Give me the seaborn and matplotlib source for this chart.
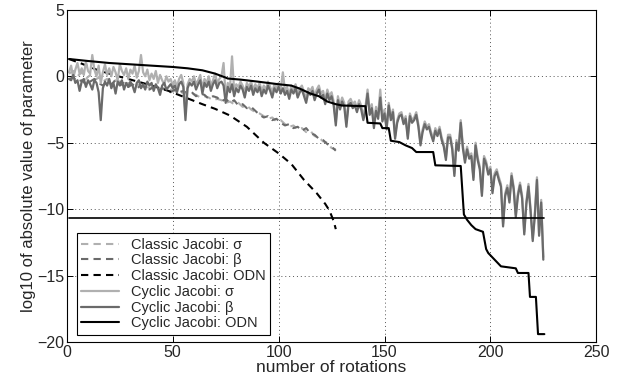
import numpy as np
import pandas as pd
import seaborn as sns
import matplotlib
matplotlib.use("Agg")
import matplotlib.pyplot as plt

# ---------------- data ----------------
cyc_x = list(range(1, 226))
cyc_beta = [
    -0.2, -0.3, 0.1, -0.5, -0.3, -1.1, -0.4, -0.2, -0.8, -0.3,
    -0.6, -1.0, -0.3, -0.5, -1.2, -3.3, -0.9, -0.4, -0.7, -0.2,
    -0.9, -0.5, -1.3, -0.4, -0.6, -0.3, -1.0, -0.5, -0.8, -0.4,
    -0.7, -1.2, -0.5, -0.3, -0.9, -0.6, -1.0, -0.4, -0.7, -0.5,
    -1.1, -0.6, -0.9, -1.4, -0.7, -0.5, -1.0, -0.8, -0.6, -0.9,
    -0.7, -1.2, -0.6, -0.4, -0.8, -3.3, -0.9, -0.5, -0.7, -0.4,
    -1.0, -0.6, -0.3, -1.3, -0.5, -0.8, -0.4, -1.1, -0.6, -0.3,
    -0.9, -0.5, -0.4, -0.7, -2.0, -0.8, -1.2, -0.6, -1.5, -0.9,
    -1.2, -0.7, -1.0, -1.6, -0.8, -1.1, -0.7, -1.4, -0.9, -1.2,
    -0.8, -1.5, -1.0, -1.3, -0.7, -1.1, -1.6, -0.9, -1.2, -0.8,
    -1.3, -0.9, -1.4, -1.1, -1.7, -1.0, -1.3, -0.9, -1.6, -1.2,
    -1.0, -1.5, -2.0, -1.2, -1.4, -1.1, -1.8, -1.3, -1.0, -1.6,
    -1.4, -2.1, -1.3, -1.8, -1.5, -2.2, -3.7, -1.8, -2.5, -1.9,
    -2.3, -3.8, -2.15, -2.0, -2.4, -2.2, -2.7, -2.1, -2.5, -3.3,
    -2.6, -1.3, -2.9, -2.4, -3.9, -2.6, -3.2, -1.6, -3.4, -2.8,
    -4.0, -2.2, -3.3, -2.7, -4.7, -3.5, -3.0, -2.9, -3.6, -3.2,
    -4.7, -3.0, -3.5, -3.3, -2.9, -3.8, -5.2, -4.2, -3.6, -4.0,
    -3.8, -4.4, -4.9, -4.1, -4.5, -4.0, -4.8, -5.3, -6.3, -4.6,
    -4.6, -5.5, -7.5, -5.0, -5.6, -3.5, -5.4, -6.5, -5.5, -6.2,
    -6.0, -7.8, -5.2, -6.3, -7.0, -9.0, -6.2, -6.6, -7.4, -7.0,
    -8.8, -7.5, -7.2, -7.8, -8.3, -11.3, -9.0, -8.4, -9.5, -7.5,
    -8.5, -10.6, -9.0, -8.2, -9.2, -11.9, -9.6, -8.3, -10.2, -12.4,
    -10.5, -7.8, -12.0, -9.5, -13.8,
]
cyc_sigma = [
    0.3, 0.8, -0.1, 0.5, 1.0, 0.2, 0.6, 0.1, 1.1, 0.4,
    0.2, 1.6, 0.5, 0.0, 0.8, -0.5, 0.3, 0.9, 0.1, 0.6,
    0.0, 0.7, 0.3, -0.3, 0.9, 0.4, 0.1, 0.6, -0.2, 0.5,
    0.2, 0.8, -0.1, 0.4, 1.6, 0.3, 0.0, 0.5, -0.3, 0.2,
    -0.2, 0.4, -0.5, 0.1, -0.3, -0.6, 0.0, -0.4, -0.2, -0.7,
    -0.3, -0.8, -0.2, 0.1, -0.5, -2.8, -0.6, -0.2, -0.4, 0.0,
    -0.6, -0.3, 0.1, -0.9, -0.2, -0.5, 0.0, -0.7, -0.3, 0.2,
    -0.5, -0.2, 0.0, 1.0, -1.5, -0.5, -0.9, 1.5, -1.1, -0.6,
    -0.8, -0.4, -0.7, -1.2, -0.5, -0.8, -0.4, -1.0, -0.6, -0.9,
    -0.5, -1.1, -0.7, -1.0, -0.4, -0.8, -1.2, -0.6, -0.9, -0.5,
    -1.0, 0.3, -1.1, -0.8, -1.4, -0.7, -1.0, -0.6, -1.3, -0.9,
    -0.7, -1.2, -1.7, -0.9, -1.1, -0.8, -1.5, -1.0, -0.7, -1.3,
    -1.1, -1.8, -1.0, -1.5, -1.2, -1.9, -3.4, -1.5, -2.2, -1.6,
    -2.0, -3.5, -1.9, -1.7, -2.1, -1.9, -2.4, -1.8, -2.2, -3.0,
    -2.3, -1.0, -2.6, -2.1, -3.6, -2.3, -2.9, -1.0, -3.1, -2.5,
    -3.8, -2.0, -3.1, -2.5, -4.5, -3.3, -2.8, -2.7, -3.4, -3.0,
    -4.5, -2.8, -3.3, -3.1, -2.7, -3.6, -5.0, -4.0, -3.4, -3.8,
    -3.6, -4.2, -4.7, -3.9, -4.3, -3.8, -4.6, -5.1, -6.1, -4.4,
    -4.4, -5.3, -7.3, -4.8, -5.4, -3.3, -5.2, -6.3, -5.3, -6.0,
    -5.8, -7.6, -5.0, -6.1, -6.8, -8.8, -6.0, -6.4, -7.2, -6.8,
    -8.6, -7.3, -7.0, -7.6, -8.1, -11.1, -8.8, -8.2, -9.3, -7.3,
    -8.3, -10.4, -8.8, -8.0, -9.0, -11.7, -9.4, -8.1, -10.0, -12.2,
    -10.3, -7.6, -11.8, -9.3, -13.6,
]
cyc_odn_x = [1, 10, 20, 30, 40, 50, 57, 64, 70, 75, 76, 82, 90, 100, 106, 110,
             115, 119, 123, 127, 130, 141, 142, 148, 149, 152, 153, 157, 160,
             163, 165, 173, 174, 186, 187.5, 189, 191, 193, 196.5, 198, 199,
             202, 205, 212, 213, 218, 218.7, 221.5, 222.5, 225.5]
cyc_odn = [1.3, 1.15, 1.0, 0.9, 0.8, 0.7, 0.6, 0.45, 0.2, -0.1, -0.17, -0.25,
           -0.4, -0.6, -0.7, -0.93, -1.3, -1.5, -1.9, -2.1, -2.2, -2.25, -3.5,
           -3.55, -3.9, -3.9, -4.85, -4.95, -5.2, -5.4, -5.7, -5.7, -6.7,
           -6.75, -10.4, -10.8, -11.2, -11.5, -11.7, -13.0, -13.3, -13.8,
           -14.3, -14.45, -14.8, -14.8, -16.6, -16.6, -19.4, -19.4]

cls_x = list(range(1, 128, 2))
cls_beta = [-0.2, -0.1, -0.4, -0.3, -0.6, -0.4, -0.2, -0.5, -0.7, -0.4,
            -0.6, -0.3, -0.7, -0.5, -0.8, -0.6, -0.9, -0.7, -0.8, -1.0,
            -0.8, -1.1, -0.9, -1.0, -1.2, -1.0, -1.2, -1.1, -1.3, -1.2,
            -1.5, -1.3, -1.4, -1.7, -1.5, -1.6, -1.9, -1.7, -2.0, -1.8,
            -2.2, -2.1, -2.4, -2.3, -2.6, -2.9, -3.1, -3.0, -3.3, -3.2,
            -3.5, -3.7, -3.6, -3.9, -3.8, -4.1, -3.9, -4.3, -4.4, -4.7,
            -4.8, -5.1, -5.3, -5.6]
cls_sigma = [0.2, 0.4, 0.0, 0.3, -0.2, 0.1, -0.3, -0.1, -0.4, -0.2,
             -0.5, -0.3, -0.4, -0.6, -0.5, -0.7, -0.6, -0.8, -0.7, -0.9,
             -0.8, -1.0, -0.9, -1.1, -1.0, -1.1, -1.3, -1.2, -1.4, -1.3,
             -1.4, -1.6, -1.5, -1.6, -1.8, -1.7, -1.8, -2.0, -1.9, -2.1,
             -2.0, -2.3, -2.2, -2.5, -2.7, -2.8, -3.0, -3.2, -3.1, -3.4,
             -3.3, -3.6, -3.8, -3.7, -4.0, -3.9, -4.2, -4.1, -4.5, -4.6,
             -4.9, -5.0, -5.4, -5.5]
cls_odn_x = [1, 7, 14, 22, 30, 38, 48, 56, 64, 70, 77, 85, 93, 100, 106, 112,
             118, 122, 124, 126, 127]
cls_odn = [1.3, 0.95, 0.5, 0.1, -0.25, -0.6, -1.1, -1.6, -2.1, -2.45, -2.95,
           -3.8, -5.0, -5.8, -6.6, -7.8, -8.8, -9.6, -10.1, -10.9, -11.5]

tol_x = [1, 225.5]
tol_y = [-10.65, -10.65]

labels = ["Classic Jacobi: σ", "Classic Jacobi: β", "Classic Jacobi: ODN",
          "Cyclic Jacobi: σ", "Cyclic Jacobi: β", "Cyclic Jacobi: ODN"]

# ---------------- style ----------------
sns.set_style("ticks")
plt.rcParams["font.family"] = ["Liberation Sans", "DejaVu Sans"]
plt.rcParams["xtick.direction"] = "in"
plt.rcParams["ytick.direction"] = "in"

fig = plt.figure(figsize=(6.25, 3.78), dpi=100)
ax = fig.add_axes([0.107, 0.095, 0.847, 0.879])

light = "#b0b0b0"
dark = "#6a6a6a"
blk = "#000000"

series = [
    (cls_x, cls_sigma, light, "--", 1.5),
    (cls_x, cls_beta, dark, "--", 1.5),
    (cls_odn_x, cls_odn, blk, "--", 1.5),
    (cyc_x, cyc_sigma, light, "-", 1.6),
    (cyc_x, cyc_beta, dark, "-", 1.6),
    (cyc_odn_x, cyc_odn, blk, "-", 1.5),
]
for (xs, ys, c, ls, lw), lab in zip(series, labels):
    df = pd.DataFrame({"x": xs, "y": ys})
    sns.lineplot(data=df, x="x", y="y", color=c, linestyle=ls, linewidth=lw,
                 estimator=None, sort=False, label=lab, ax=ax)
    line = ax.lines[-1]
    if ls == "--":
        line.set_dashes((3.5, 2.5))

sns.lineplot(x=tol_x, y=tol_y, color=blk, linewidth=1.2, estimator=None,
             sort=False, ax=ax)

ax.set_xlim(0, 250)
ax.set_ylim(-20, 5)
ax.set_xticks([0, 50, 100, 150, 200, 250])
ax.set_yticks([-20, -15, -10, -5, 0, 5])
ax.grid(True, linestyle=(0, (1, 3)), color="#555555", linewidth=0.7)
for s in ax.spines.values():
    s.set_visible(True)
    s.set_color("black")
    s.set_linewidth(0.8)
ax.tick_params(axis="both", labelsize=11.5, length=4, width=0.7,
               top=True, right=True, color="black", pad=2)
ax.set_xlabel("number of rotations", fontsize=12.5, labelpad=0)
ax.set_ylabel("log10 of absolute value of parameter", fontsize=12, labelpad=1)

handles = ax.lines[:6]
leg = ax.legend(handles, labels, loc="lower left", fontsize=10.5,
                frameon=True, fancybox=False, edgecolor="black",
                framealpha=1, handlelength=2.6, labelspacing=0.12,
                borderpad=0.3, handletextpad=0.8,
                bbox_to_anchor=(0.005, 0.0))
leg.get_frame().set_linewidth(0.8)

fig.savefig("out.png", dpi=100)
